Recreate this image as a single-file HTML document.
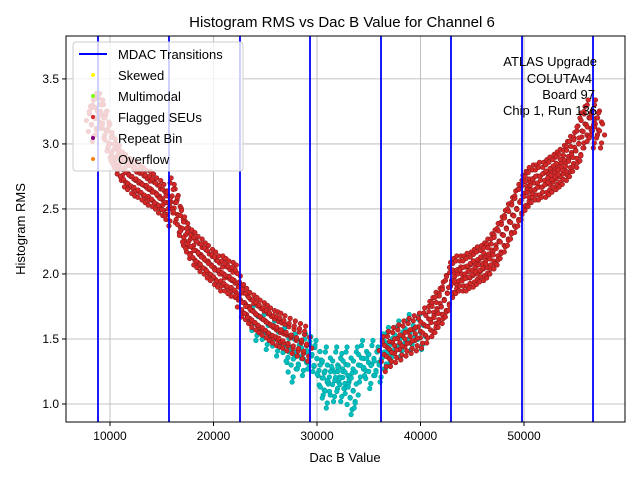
<!DOCTYPE html>
<html><head><meta charset="utf-8"><style>
body{margin:0;background:#fff}
svg{font-family:"Liberation Sans","DejaVu Sans",sans-serif}
</style></head><body>
<svg id="chart" width="640" height="480" xmlns="http://www.w3.org/2000/svg">
<rect width="640" height="480" fill="#fff"/>
<text x="342" y="27" text-anchor="middle" font-size="15">Histogram RMS vs Dac B Value for Channel 6</text>
<g id="grid"></g>
<g id="marks"></g>
<g id="mdac"></g>
<rect x="66" y="36" width="559" height="386" fill="none" stroke="#000" stroke-width="1"/>
<g id="axes"></g>
<text x="345" y="462" text-anchor="middle" font-size="13">Dac B Value</text>
<text transform="translate(25,229) rotate(-90)" text-anchor="middle" font-size="13">Histogram RMS</text>
<g font-size="13" text-anchor="end">
<text x="597" y="66">ATLAS Upgrade</text>
<text x="592" y="83">COLUTAv4</text>
<text x="595" y="99">Board 97</text>
<text x="597" y="115">Chip 1, Run 136</text>
</g>
<g>
<rect x="73" y="42" width="170" height="129" rx="3" fill="#fff" fill-opacity="0.8" stroke="#ccc"/>
<g><line x1="79" y1="54" x2="107" y2="54" stroke="#0000ff" stroke-width="2"/><text x="118" y="59" font-size="13">MDAC Transitions</text></g>
<g><circle cx="93" cy="75" r="2" fill="#ffff00"/><text x="118" y="80" font-size="13">Skewed</text></g>
<g><circle cx="93" cy="96" r="2" fill="#7cfc00"/><text x="118" y="101" font-size="13">Multimodal</text></g>
<g><circle cx="93" cy="117" r="2" fill="#d62728"/><text x="118" y="122" font-size="13">Flagged SEUs</text></g>
<g><circle cx="93" cy="138" r="2" fill="#800080"/><text x="118" y="143" font-size="13">Repeat Bin</text></g>
<g><circle cx="93" cy="159" r="2" fill="#ff7f0e"/><text x="118" y="164" font-size="13">Overflow</text></g>
</g>
</svg>
<script>
const xTicks=[10000,20000,30000,40000,50000];
const xTickLabels=["10000","20000","30000","40000","50000"];
const yTicks=[1.0,1.5,2.0,2.5,3.0,3.5];
const yTickLabels=["1.0","1.5","2.0","2.5","3.0","3.5"];
const mdacX=[8841,15700,22560,29324,36184,42947,49807,56667];
const redX=[8.2,8.5,8.8,9.1,9.4,9.7,10,10.3,10.6,11,11.3,11.6,12,12.3,12.6,13,13.3,13.6,14,14.3,14.6,15,15.3,15.6,16,16.3,16.6,17,17.3,17.6,18,18.3,18.6,19,19.3,19.6,20,20.3,20.6,21,21.3,21.6,22,22.3,22.6,23,23.3,23.6,24,24.3,24.6,25,25.3,25.6,26,26.3,26.6,27,27.5,28,28.5,29,36.5,37,37.5,38,38.5,39,39.5,40,40.5,41,41.3,41.6,42,42.3,42.6,43,43.3,43.6,44,44.3,44.6,45,45.3,45.6,46,46.3,46.6,47,47.3,47.6,48,48.3,48.6,49,49.3,49.6,50,50.3,50.6,51,51.3,51.6,52,52.3,52.6,53,53.3,53.6,54,54.3,54.6,55,55.3,55.6,56,56.3,56.6,57,57.3];
const redY=[3.15,3.2,3.25,3.25,3.2,3.1,3.0,2.95,2.9,2.85,2.8,2.78,2.75,2.73,2.72,2.7,2.68,2.66,2.65,2.63,2.6,2.58,2.55,2.5,2.6,2.55,2.45,2.35,2.3,2.25,2.2,2.18,2.15,2.13,2.1,2.08,2.05,2.03,2.0,2.0,1.98,1.96,1.95,1.93,1.8,1.78,1.75,1.72,1.7,1.68,1.66,1.64,1.62,1.6,1.58,1.57,1.56,1.54,1.52,1.5,1.48,1.46,1.38,1.42,1.45,1.47,1.5,1.52,1.54,1.56,1.6,1.65,1.68,1.72,1.75,1.8,1.85,1.95,1.98,2.0,2.0,2.0,2.02,2.03,2.05,2.07,2.08,2.1,2.13,2.17,2.2,2.25,2.3,2.35,2.4,2.45,2.5,2.55,2.62,2.65,2.68,2.7,2.7,2.72,2.72,2.74,2.76,2.78,2.8,2.82,2.85,2.88,2.92,2.95,3.0,3.1,3.15,3.2,3.1,3.2,3.1];
const cyanX=[24,25,26,27,27.5,28,28.5,29,29.5,30,30.5,30.8,31,31.5,32,32.2,32.5,33,33.2,33.5,34,34.5,35,35.5,36,36.5,37,38,39,40];
const cyanY=[1.62,1.55,1.5,1.45,1.3,1.4,1.35,1.4,1.38,1.35,1.2,1.1,1.3,1.15,1.3,1.15,1.25,1.3,1.05,1.1,1.3,1.35,1.25,1.35,1.3,1.4,1.45,1.5,1.55,1.55];
const NS="http://www.w3.org/2000/svg";
const X0=66,X1=625,Y0=422,Y1=36,XMIN=5749,XMAX=59758,YMIN=0.8615,YMAX=3.83;
function sx(v){return X0+(v-XMIN)/(XMAX-XMIN)*(X1-X0);}
function sy(v){return Y0-(v-YMIN)/(YMAX-YMIN)*(Y0-Y1);}
function mk(t,a,p){const e=document.createElementNS(NS,t);for(const k in a)e.setAttribute(k,a[k]);p.appendChild(e);return e;}
const grid=document.getElementById('grid'),axes=document.getElementById('axes'),marks=document.getElementById('marks'),mdac=document.getElementById('mdac');
xTicks.forEach((v,i)=>{const x=sx(v);
const g=mk('line',{x1:x,x2:x,y1:Y1,y2:Y0,stroke:'#b0b0b0','stroke-width':0.8},grid);


mk('line',{x1:x,x2:x,y1:Y0,y2:Y0+4,stroke:'#000'},axes);
const t=mk('text',{x:x,y:Y0+18,'text-anchor':'middle','font-size':12},axes);t.textContent=xTickLabels[i];

});
yTicks.forEach((v,i)=>{const y=sy(v);
const g=mk('line',{x1:X0,x2:X1,y1:y,y2:y,stroke:'#b0b0b0','stroke-width':0.8},grid);


mk('line',{x1:X0-4,x2:X0,y1:y,y2:y,stroke:'#000'},axes);
const t=mk('text',{x:X0-7,y:y+4,'text-anchor':'end','font-size':12},axes);t.textContent=yTickLabels[i];

});
const offs=[[0,0],[-3,7],[3,-7],[-2,-13],[2,12],[5,4],[-5,-4],[1,17],[-1,-18]];
function blob(xv,yv,fill,stroke,name){offs.forEach(o=>{const c=mk('circle',{cx:sx(xv)+o[0],cy:sy(yv)+o[1],r:2.3,fill:fill,stroke:stroke,'stroke-width':0.6},marks);

});}
cyanX.forEach((v,i)=>blob(v*1000,cyanY[i],'#00bfbf','#00a0a0','cyan-point'));
redX.forEach((v,i)=>blob(v*1000,redY[i],'#d62728','#8b1a1a','flagged-seu-point'));
mdacX.forEach(v=>{const l=mk('line',{x1:sx(v),x2:sx(v),y1:Y1,y2:Y0,stroke:'#0000ff','stroke-width':1.8},mdac);

});
</script>
</body></html>
